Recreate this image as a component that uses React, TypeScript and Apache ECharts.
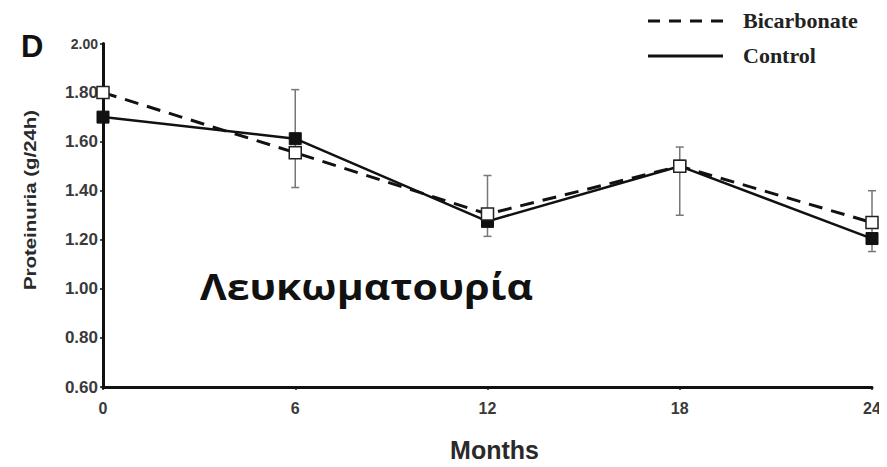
import React, { useEffect, useRef } from "react";
import * as echarts from "echarts";

// Proteinuria over follow-up (g/24h)
const months = [0, 6, 12, 18, 24];
const bicarbonate = [1.8, 1.555, 1.305, 1.5, 1.27];
const control = [1.7, 1.612, 1.275, 1.5, 1.205];
// Error bar extents per month (null where no bar is drawn)
const errorLow: (number | null)[] = [null, 1.413, 1.214, 1.3, 1.152];
const errorHigh: (number | null)[] = [null, 1.812, 1.462, 1.578, 1.4];
const yTicks = [0.6, 0.8, 1.0, 1.2, 1.4, 1.6, 1.8, 2.0];

const legendItems = ["Bicarbonate", "Control"];
const yTitle = "Proteinuria (g/24h)";
const xTitle = "Months";
const overlayText = "Λευκωματουρία";

const SANS = "Liberation Sans, Arial, sans-serif";
const SERIF = "Liberation Serif, Times New Roman, serif";

export default function App() {
  const ref = useRef<HTMLDivElement>(null);

  useEffect(() => {
    if (!ref.current) return;
    const chart = echarts.init(ref.current, null, { renderer: "svg" });

    const errData = months
      .map((m, i) => [m, errorLow[i], errorHigh[i]])
      .filter((d) => d[1] != null && d[2] != null);

    chart.setOption({
      animation: false,
      backgroundColor: "#ffffff",
      grid: { left: 103, right: 15, top: 43.5, bottom: 79 },
      xAxis: {
        type: "value",
        min: 0,
        max: 24,
        interval: 6,
        name: xTitle,
        nameLocation: "middle",
        nameGap: 50,
        nameTextStyle: { fontFamily: SANS, fontWeight: "bold", fontSize: 25, color: "#2a2a2a", padding: [0, 0, 0, 14] },
        axisLine: { lineStyle: { color: "#111", width: 3 } },
        axisTick: { show: true, length: 3, lineStyle: { color: "#111", width: 1.5 } },
        axisLabel: { fontFamily: SANS, fontWeight: "bold", fontSize: 16, color: "#3a3a3a", margin: 13 },
        splitLine: { show: false },
      },
      yAxis: {
        type: "value",
        min: yTicks[0],
        max: yTicks[yTicks.length - 1],
        interval: 0.2,
        axisLine: { show: true, lineStyle: { color: "#111", width: 3 } },
        axisTick: { show: true, length: 3, lineStyle: { color: "#111", width: 1.5 } },
        axisLabel: {
          fontFamily: SANS,
          fontWeight: "bold",
          fontSize: 17,
          color: "#3a3a3a",
          margin: 5,
          formatter: (v: number) =>
            v >= yTicks[yTicks.length - 1] ? `{top|${v.toFixed(2)}}` : v.toFixed(2),
          rich: { top: { fontFamily: SANS, fontWeight: "bold", fontSize: 14, color: "#3a3a3a" } },
        },
        splitLine: { show: false },
      },
      series: [
        {
          type: "custom",
          name: "error",
          z: 1,
          data: errData,
          renderItem: (params: any, api: any) => {
            const x = api.value(0);
            const lo = api.coord([x, api.value(1)]);
            const hi = api.coord([x, api.value(2)]);
            const cap = 4;
            const style = { stroke: "#777", lineWidth: 1.5 };
            return {
              type: "group",
              children: [
                { type: "line", shape: { x1: lo[0], y1: lo[1], x2: hi[0], y2: hi[1] }, style },
                { type: "line", shape: { x1: hi[0] - cap, y1: hi[1], x2: hi[0] + cap, y2: hi[1] }, style },
                { type: "line", shape: { x1: lo[0] - cap, y1: lo[1], x2: lo[0] + cap, y2: lo[1] }, style },
              ],
            };
          },
        },
        {
          type: "line",
          name: "Control",
          z: 3,
          data: months.map((m, i) => [m, control[i]]),
          symbol: "rect",
          symbolSize: 12,
          lineStyle: { color: "#111", width: 2.5, type: "solid" },
          itemStyle: { color: "#111", borderColor: "#111", borderWidth: 1 },
        },
        {
          type: "line",
          name: "Bicarbonate",
          z: 4,
          data: months.map((m, i) => [m, bicarbonate[i]]),
          symbol: "rect",
          symbolSize: 12,
          lineStyle: { color: "#111", width: 3, type: [14, 9] },
          itemStyle: { color: "#ffffff", borderColor: "#222", borderWidth: 1.5 },
        },
      ],
      graphic: [
        {
          type: "text",
          x: 21,
          y: 31,
          style: { text: "D", font: `bold 31px ${SANS}`, fill: "#111" },
        },
        {
          type: "text",
          x: 30,
          y: 200,
          rotation: Math.PI / 2,
          scaleX: 1.2,
          style: {
            text: yTitle,
            font: `bold 17px ${SANS}`,
            fill: "#2a2a2a",
            textAlign: "center",
            textVerticalAlign: "middle",
          },
        },
        {
          type: "line",
          shape: { x1: 648, y1: 21, x2: 725, y2: 21 },
          style: { stroke: "#111", lineWidth: 3, lineDash: [12, 9] },
        },
        {
          type: "text",
          x: 743,
          y: 20,
          style: {
            text: legendItems[0],
            font: `bold 22px ${SERIF}`,
            fill: "#222",
            textVerticalAlign: "middle",
          },
        },
        {
          type: "line",
          shape: { x1: 648, y1: 56, x2: 723, y2: 56 },
          style: { stroke: "#111", lineWidth: 3 },
        },
        {
          type: "text",
          x: 743,
          y: 55,
          style: {
            text: legendItems[1],
            font: `bold 22px ${SERIF}`,
            fill: "#222",
            textVerticalAlign: "middle",
          },
        },
        {
          type: "text",
          x: 200,
          y: 268,
          scaleX: 1.14,
          style: {
            text: overlayText,
            font: "bold 36px 'Open Sans', 'Noto Sans', sans-serif",
            fill: "#111",
          },
        },
      ],
    });

    return () => chart.dispose();
  }, []);

  return <div ref={ref} style={{ width: 887, height: 467, margin: -8 }} />;
}
